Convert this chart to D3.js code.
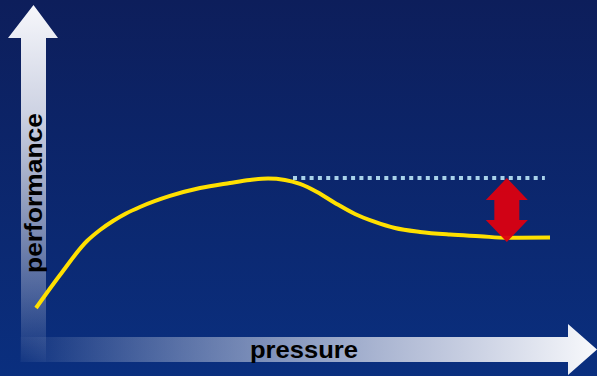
<!DOCTYPE html>
<html>
<head>
<meta charset="utf-8">
<script src="https://cdn.jsdelivr.net/npm/d3@7/dist/d3.min.js"></script>
<style>
html,body{margin:0;padding:0;background:#0c2468;}
svg{display:block;}
</style>
</head>
<body>
<svg id="chart" width="597" height="376"></svg>
<script>
// ---- data ----
const pressure = [0, 4.67, 9.92, 12.45, 14.98, 17.51, 20.23, 26.07, 31.91, 37.74, 41.63, 45.14, 48.44, 51.36, 54.67, 58.17, 62.06, 65.95, 69.84, 74.71, 80.54, 86.38, 91.63, 100];
const performance = [0, 25.4, 51.5, 60.0, 66.9, 72.7, 77.7, 86.2, 92.3, 96.2, 98.5, 99.6, 98.5, 95.4, 89.2, 80.8, 72.3, 66.2, 61.5, 58.5, 56.5, 55.2, 54.0, 54.2];
const referenceStart = 50.0;   // pressure where the dotted reference line begins
const referenceEnd = 99.0;
const referenceLevel = 100;    // performance level of the dotted line
const dropAt = 91.6;           // pressure where the red arrow marks the drop
const dropLevel = 53.8;
const xLabel = "pressure";
const yLabel = "performance";

(function(){
const W = 597, H = 376;
const svg = d3.select("#chart");
const defs = svg.append("defs");

// background gradient
const bg = defs.append("linearGradient").attr("id","bg").attr("x1",0).attr("y1",0).attr("x2",0).attr("y2",1);
bg.append("stop").attr("offset","0%").attr("stop-color","#0d1e5b");
bg.append("stop").attr("offset","100%").attr("stop-color","#0a2f7f");
svg.append("rect").attr("width",W).attr("height",H).attr("fill","url(#bg)");

// arrow gradients
const gv = defs.append("linearGradient").attr("id","gv").attr("gradientUnits","userSpaceOnUse")
  .attr("x1",0).attr("y1",5).attr("x2",0).attr("y2",362);
gv.append("stop").attr("offset","0%").attr("stop-color","#f6f7fb").attr("stop-opacity",1);
gv.append("stop").attr("offset","30%").attr("stop-color","#d8dcea").attr("stop-opacity",0.95);
gv.append("stop").attr("offset","100%").attr("stop-color","#ffffff").attr("stop-opacity",0.02);

const gh = defs.append("linearGradient").attr("id","gh").attr("gradientUnits","userSpaceOnUse")
  .attr("x1",20).attr("y1",0).attr("x2",597).attr("y2",0);
gh.append("stop").attr("offset","0%").attr("stop-color","#ffffff").attr("stop-opacity",0.02);
gh.append("stop").attr("offset","70%").attr("stop-color","#d8dcea").attr("stop-opacity",0.85);
gh.append("stop").attr("offset","100%").attr("stop-color","#f8f9fc").attr("stop-opacity",1);

// scales
const x = d3.scaleLinear().domain([0,100]).range([36,550]);
const y = d3.scaleLinear().domain([0,100]).range([308,178]);

// axis arrows
svg.append("path")
  .attr("d", d3.line()([[21,362],[21,38],[8,38],[33.5,5],[58,38],[46,38],[46,362]]) + "Z")
  .attr("fill","url(#gv)");
svg.append("path")
  .attr("d", d3.line()([[20,337],[568,337],[568,324],[597,349.5],[568,375],[568,362],[20,362]]) + "Z")
  .attr("fill","url(#gh)");

// axis labels
svg.append("text")
  .attr("transform","translate(42,193) rotate(-90)")
  .attr("text-anchor","middle")
  .attr("font-family","Liberation Sans, Arial, sans-serif")
  .attr("font-weight","bold")
  .attr("font-size",23)
  .attr("textLength",160).attr("lengthAdjust","spacingAndGlyphs")
  .attr("fill","#000")
  .text(yLabel);
svg.append("text")
  .attr("x",304).attr("y",358)
  .attr("text-anchor","middle")
  .attr("font-family","Liberation Sans, Arial, sans-serif")
  .attr("font-weight","bold")
  .attr("font-size",24)
  .attr("textLength",108).attr("lengthAdjust","spacingAndGlyphs")
  .attr("fill","#000")
  .text(xLabel);

// dotted reference line
svg.append("line")
  .attr("x1",x(referenceStart)).attr("x2",x(referenceEnd))
  .attr("y1",y(referenceLevel)).attr("y2",y(referenceLevel))
  .attr("stroke","#a9d2ea").attr("stroke-width",4)
  .attr("stroke-dasharray","4 4.3");

// curve
const pts = pressure.map((p,i)=>[x(p), y(performance[i])]);
svg.append("path")
  .attr("d", d3.line().curve(d3.curveMonotoneX)(pts))
  .attr("fill","none").attr("stroke","#ffe000").attr("stroke-width",4)
  .attr("stroke-linecap","butt");

// red double arrow
const ax = x(dropAt), yTop = y(referenceLevel), yBot = y(dropLevel) + 4;
const hw = 21, sw = 12.5, hh = 22;
svg.append("path")
  .attr("d", d3.line()([
    [ax, yTop],[ax+hw, yTop+hh],[ax+sw, yTop+hh],[ax+sw, yBot-hh],[ax+hw, yBot-hh],
    [ax, yBot],[ax-hw, yBot-hh],[ax-sw, yBot-hh],[ax-sw, yTop+hh],[ax-hw, yTop+hh]
  ]) + "Z")
  .attr("fill","#dc0010").attr("fill-opacity",0.95);
})();
</script>
</body>
</html>
